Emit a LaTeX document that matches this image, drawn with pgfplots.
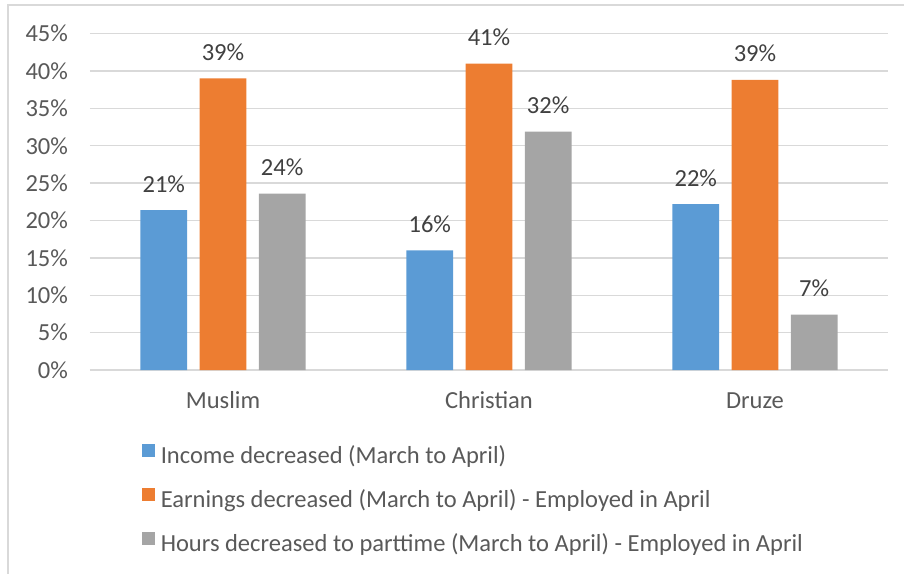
\documentclass[border=0pt]{standalone}
\usepackage{fontspec}
\setmainfont{Carlito}
\usepackage{pgfplots}
\pgfplotsset{compat=1.18}
\definecolor{cblue}{HTML}{5B9BD5}
\definecolor{corange}{HTML}{ED7D31}
\definecolor{cgray}{HTML}{A5A5A5}
\definecolor{gridc}{HTML}{D9D9D9}
\definecolor{textc}{HTML}{595959}
\definecolor{labelc}{HTML}{404040}
\newcommand{\chartfont}{\fontsize{18.4}{22}\selectfont}
\begin{document}
\begin{tikzpicture}
\path[use as bounding box] (0,0) rectangle (678pt,-430.5pt);
\draw[gridc, line width=1pt] (6pt,-430.5pt) -- (6pt,-3.75pt) -- (678pt,-3.75pt);
\begin{axis}[
    at={(67.5pt,-277.5pt)}, anchor=south west,
    scale only axis,
    width=598.5pt, height=252.3pt,
    ybar=9.4pt, bar width=35pt,
    xmin=-0.5, xmax=2.5,
    ymin=0, ymax=45,
    ytick={0,5,...,45},
    yticklabel={\pgfmathprintnumber{\tick}\%},
    xtick={0,1,2},
    xticklabels={Muslim,Christian,Druze},
    /pgf/number format/assume math mode=true,
    axis line style={draw=none},
    major tick length=0pt,
    ymajorgrids,
    grid style={gridc, line width=1pt},
    ticklabel style={font=\chartfont, text=textc},
    xticklabel style={anchor=base, yshift=-28.5pt},
    yticklabel style={anchor=east, xshift=-13pt},
    point meta=y,
    nodes near coords={\pgfmathprintnumber[fixed,precision=0]{\pgfplotspointmeta}\%},
    every node near coord/.append style={font=\chartfont, text=labelc, anchor=base, yshift=13.5pt},
    legend style={at={(0.0652,-0.219)}, anchor=north west, draw=none, fill=none,
        inner sep=0pt, outer sep=0pt, font=\chartfont, text=textc,
        nodes={inner sep=0pt, text height=13pt, text depth=3.5pt},
        row sep=15pt, cells={anchor=west},
        /tikz/every odd column/.append style={column sep=4.3pt}},
    legend image code/.code={\fill[#1] (0pt,0pt) rectangle (9.75pt,9.75pt);},
]
\addplot[fill=cblue, draw=none] coordinates {(0,21.4) (1,16.0) (2,22.2)};
\addplot[fill=corange, draw=none] coordinates {(0,39.0) (1,41.0) (2,38.8)};
\addplot[fill=cgray, draw=none] coordinates {(0,23.6) (1,31.9) (2,7.4)};
\legend{Income decreased (March to April),
        Earnings decreased (March to April) - Employed in April,
        Hours decreased to parttime (March to April) - Employed in April}
\end{axis}
\end{tikzpicture}
\end{document}
